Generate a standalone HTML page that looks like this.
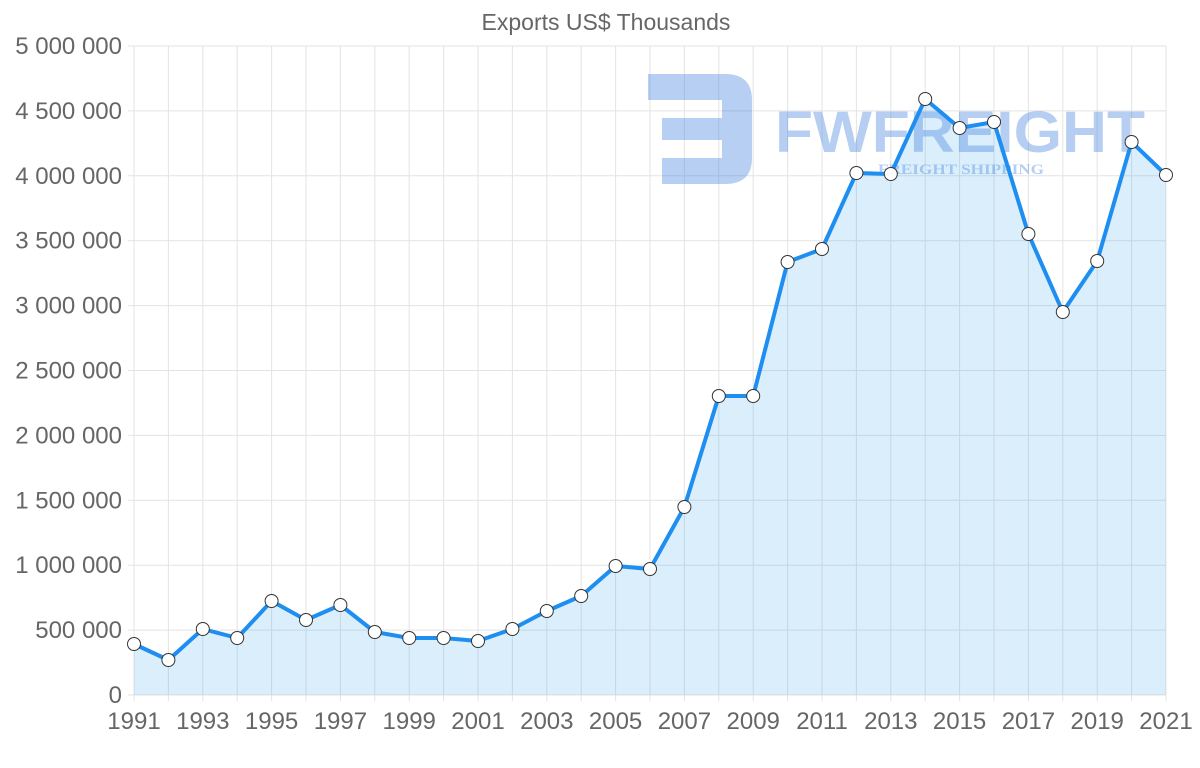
<!DOCTYPE html>
<html><head><meta charset="utf-8"><style>
body{margin:0;background:#fff;width:1200px;height:763px;overflow:hidden;font-family:"Liberation Sans",sans-serif}
</style></head><body>
<svg width="1200" height="763" xmlns="http://www.w3.org/2000/svg" font-family="Liberation Sans, sans-serif">
<text x="606" y="30" text-anchor="middle" font-size="23" fill="#666">Exports US$ Thousands</text>
<g id="grid" stroke="#e3e3e3" stroke-width="1"></g>
<g id="ylab" font-size="24" fill="#666" text-anchor="end"></g>
<g id="xlab" font-size="24" fill="#666" text-anchor="middle"></g>
<g opacity="0.4" fill="#4a86e0">
<path d="M648 74 H725 Q752 74 752 100 V158 Q752 184 725 184 H662 V158 H722 V140 H662 V118 H722 V100 H648 Z"/>
<text x="775" y="152" font-size="58" font-weight="bold" textLength="370" lengthAdjust="spacingAndGlyphs">FWFREIGHT</text>
<text x="878" y="174" font-size="15" font-family="Liberation Serif, serif" font-weight="bold" textLength="166" lengthAdjust="spacingAndGlyphs">FREIGHT SHIPPING</text>
</g>
<path id="area" fill="rgba(54,162,235,0.18)"></path>
<path id="line" fill="none" stroke="#1e8ff0" stroke-width="4" stroke-linejoin="round"></path>
<g id="pts" fill="#fff" stroke="#333" stroke-width="1"></g>
</svg>
<script>
var ys=[644,660,629,638,601,620,605,632,638,638,641,629,611,596,566,569,507,396,396,262,249,173,174,99,128,122,234,312,261,142,175];
var x0=134,x1=1166,dx=(x1-x0)/30,y0=695,yt=46;
var ns="http://www.w3.org/2000/svg";
function el(p,t,a,txt){var e=document.createElementNS(ns,t);for(var k in a)e.setAttribute(k,a[k]);if(txt)e.textContent=txt;document.getElementById(p).appendChild(e);}
for(var i=0;i<=10;i++){var y=y0-(y0-yt)*i/10;el("grid","line",{x1:128,x2:x1,y1:y,y2:y});
var v=(i*500000).toString().replace(/\B(?=(\d{3})+(?!\d))/g," ");el("ylab","text",{x:122,y:y+8},v);}
for(var i=0;i<=30;i++){var x=x0+dx*i;el("grid","line",{x1:x,x2:x,y1:yt,y2:y0+6});
if(i%2==0)el("xlab","text",{x:x,y:729},String(1991+i));}
var d="";ys.forEach(function(y,i){d+=(i?"L":"M")+(x0+dx*i)+" "+y;});
document.getElementById("line").setAttribute("d",d);
document.getElementById("area").setAttribute("d",d+"L"+x1+" "+y0+"L"+x0+" "+y0+"Z");
ys.forEach(function(y,i){el("pts","circle",{cx:x0+dx*i,cy:y,r:6.5});});
</script>
</body></html>
